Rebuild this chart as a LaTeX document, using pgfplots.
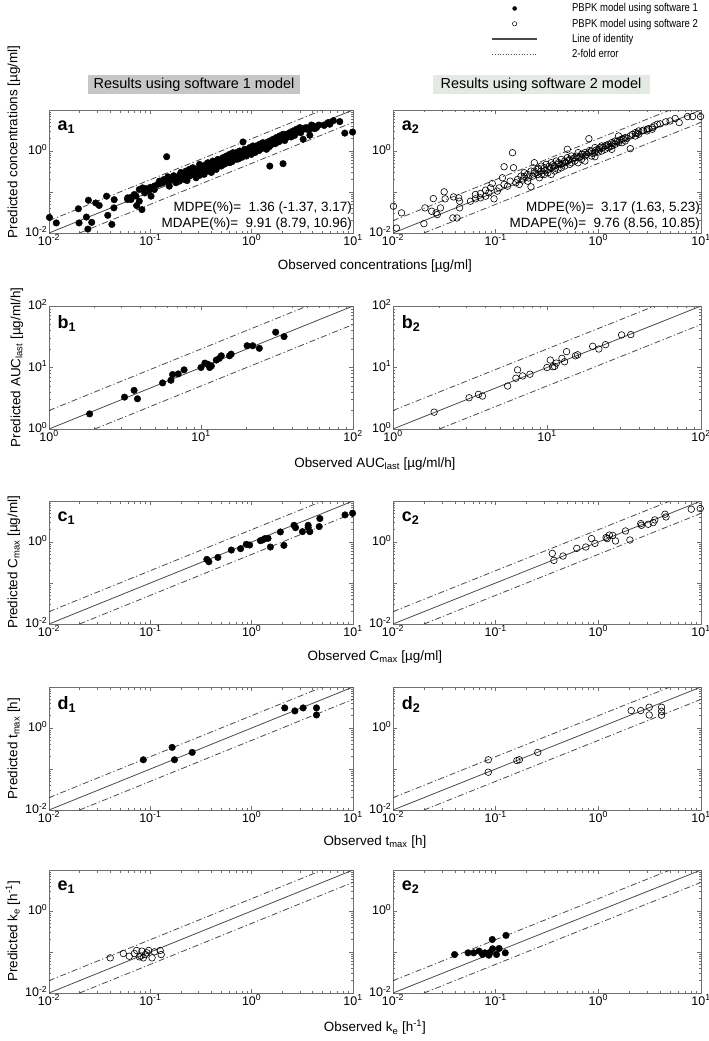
\documentclass[border=0pt]{standalone}
\usepackage{fontspec}
\setmainfont{Liberation Sans}
\usepackage{graphicx}
\usepackage{pgfplots}
\pgfplotsset{compat=1.18}

\definecolor{boxA}{HTML}{C6C6C6}
\definecolor{boxB}{HTML}{E3EAE3}
\definecolor{lnc}{HTML}{4A4A4A}
\definecolor{axc}{HTML}{6E6E6E}

\newcommand{\tp}[1]{10\textsuperscript{#1}}

\pgfplotsset{
  every axis/.append style={
    scale only axis, height=123bp,
    axis line style={axc, line width=0.8bp},
    major tick length=4bp, minor tick length=2.5bp,
    tick align=inside,
    tick style={axc, line width=0.6bp},
    tick label style={font=\fontsize{12.5}{12.5}\selectfont, inner sep=1.5bp},
    yticklabel style={yshift=1.5bp},
    every axis label/.append style={font=\fontsize{13.5}{15}\selectfont},
  },
  fillmk/.style={only marks, mark=*, mark size=3.3bp, black},
  openmk/.style={only marks, mark=o, mark size=3.3bp, black, mark options={line width=0.6bp}},
  idline/.style={lnc, line width=0.8bp, forget plot},
  foldline/.style={lnc, line width=0.8bp, dash pattern=on 6bp off 2.5bp on 1.2bp off 2.5bp, forget plot},
  legimg/.style={legend image code/.code={\draw[mark repeat=2,mark phase=2,##1] plot coordinates {(0bp,0bp) (22.5bp,0bp) (45bp,0bp)};}},
}
\tikzset{
  plabel/.style={anchor=west, font=\bfseries\fontsize{18}{18}\selectfont, inner sep=0pt},
  statnode/.style={anchor=east, font=\fontsize{13.5}{14}\selectfont, inner sep=0pt},
}
\newcommand{\legtxt}[1]{\hspace*{32bp}\scalebox{0.83}[1]{\fontsize{11.5}{12}\selectfont #1}}

\newcommand{\declines}{%
  \addplot[idline] coordinates {(0.01,0.01) (10,10)};
  \addplot[foldline] coordinates {(0.01,0.02) (5,10)};
  \addplot[foldline] coordinates {(0.02,0.01) (10,5)};
}
\newcommand{\auclines}{%
  \addplot[idline] coordinates {(1,1) (100,100)};
  \addplot[foldline] coordinates {(1,2) (50,100)};
  \addplot[foldline] coordinates {(2,1) (100,50)};
}

\begin{document}
\begin{tikzpicture}
\useasboundingbox (0,0) rectangle (709bp,-1041bp);

% titles
\node[fill=boxA, minimum width=212bp, minimum height=19bp, inner sep=0pt, font=\fontsize{14.5}{15}\selectfont] at (194bp,-84.5bp) {Results using software 1 model};
\node[fill=boxB, minimum width=217bp, minimum height=19bp, inner sep=0pt, font=\fontsize{14.5}{15}\selectfont] at (541bp,-84.5bp) {Results using software 2 model};

% ---------------- a1
\begin{loglogaxis}[anchor=south west, at={(49bp,-233bp)}, width=304bp,
  xmin=0.01,xmax=10,ymin=0.01,ymax=10,
  xtick={0.01,0.1,1,10}, xticklabels={\tp{-2},\tp{-1},\tp{0},\tp{1}},
  ytick={0.01,0.1,1,10}, yticklabels={\tp{-2},,\tp{0},},
  minor xtick={0.02,0.03,0.04,0.05,0.06,0.07,0.08,0.09,0.2,0.3,0.4,0.5,0.6,0.7,0.8,0.9,2,3,4,5,6,7,8,9},
  minor ytick={0.02,0.03,0.04,0.05,0.06,0.07,0.08,0.09,0.2,0.3,0.4,0.5,0.6,0.7,0.8,0.9,2,3,4,5,6,7,8,9},
  ylabel={Predicted concentrations [µg/ml]},
  ylabel style={at={(ticklabel cs:0.74)}},
  xlabel={Observed concentrations [µg/ml]},
  xlabel style={at={(ticklabel cs:1.072)}, yshift=-9bp}]
\declines
\addplot[fillmk] coordinates {
(0.0101,0.0240) (0.0118,0.0176) (0.0195,0.0390) (0.0198,0.0176) (0.0234,0.0245)
(0.0245,0.0630) (0.0242,0.0125) (0.0264,0.0182) (0.0289,0.0540) (0.0313,0.0470)
(0.0370,0.0790) (0.0380,0.0270) (0.0417,0.0162) (0.0437,0.0410) (0.0440,0.0650)
(0.0597,0.0720) (0.0597,0.0655) (0.0644,0.0655) (0.0695,0.0868) (0.0733,0.0467)
(0.0778,0.0597) (0.0778,0.1150) (0.0826,0.0372) (0.0840,0.1260) (0.0906,0.1200)
(0.0962,0.1050) (0.1016,0.0791) (0.1096,0.1150) (0.1180,0.1530) (0.1230,0.1840)
(0.1320,0.1680) (0.1430,0.2020) (0.1490,0.2350) (0.1450,0.7260) (0.1540,0.1390)
(0.1660,0.2020)
(0.065,0.075) (0.072,0.080) (0.088,0.095) (0.100,0.130) (0.110,0.140)
(0.125,0.160) (0.135,0.200) (0.150,0.170) (0.160,0.220) (0.170,0.250)
(0.179,0.222) (0.179,0.168) (0.194,0.254) (0.194,0.184) (0.201,0.268)
(0.217,0.268) (0.217,0.202) (0.225,0.324) (0.225,0.244) (0.243,0.356)
(0.243,0.244) (0.253,0.295) (0.263,0.391) (0.263,0.268) (0.283,0.356)
(0.283,0.222) (0.306,0.471) (0.306,0.324) (0.306,0.254) (0.318,0.391)
(0.330,0.429) (0.330,0.295) (0.356,0.471) (0.356,0.391) (0.356,0.324)
(0.370,0.518) (0.370,0.356) (0.384,0.429) (0.384,0.324) (0.414,0.569)
(0.414,0.471) (0.414,0.391) (0.430,0.518) (0.447,0.569) (0.447,0.429)
(0.447,0.356) (0.464,0.625) (0.464,0.471) (0.482,0.569) (0.482,0.518)
(0.520,0.687) (0.520,0.569) (0.520,0.471) (0.561,0.755) (0.561,0.625)
(0.561,0.518) (0.583,0.687) (0.605,0.828) (0.605,0.625) (0.605,0.518)
(0.653,0.910) (0.653,0.755) (0.653,0.625) (0.679,0.687) (0.705,0.910)
(0.705,0.828) (0.705,0.625) (0.733,0.755) (0.761,1.000) (0.761,0.828)
(0.761,0.687) (0.821,1.660) (0.821,0.910) (0.821,0.755) (0.853,1.100)
(0.853,0.828) (0.885,1.000) (0.885,0.755) (0.955,1.210) (0.955,0.910)
(0.993,1.100) (0.993,0.828) (1.03,1.33) (1.03,1.00) (1.11,1.33)
(1.11,1.00) (1.16,1.21) (1.16,1.10) (1.20,1.46) (1.20,1.10)
(1.29,1.60) (1.29,1.21) (1.40,1.60) (1.40,1.33) (1.40,1.10)
(1.45,1.46) (1.51,1.76) (1.51,1.33) (1.51,0.429) (1.63,1.93)
(1.63,1.60) (1.75,2.12) (1.75,1.60) (1.89,2.33) (1.89,1.76)
(2.04,2.56) (2.04,1.93) (2.04,0.490) (2.20,2.56) (2.20,2.12)
(2.38,2.81) (2.38,2.33) (2.56,3.09) (2.56,2.56) (2.77,2.81)
(2.77,3.40) (2.99,3.09) (2.99,3.73) (3.22,1.93) (3.22,3.40)
(3.47,3.73) (3.75,2.42) (3.75,3.40) (4.05,4.09) (4.37,3.73)
(5.70,4.94) (5.90,4.50) (7.40,5.22) (8.30,2.73) (9.90,2.90)
(0.20,0.30) (0.23,0.19) (0.26,0.33) (0.28,0.30) (0.29,0.26) (0.32,0.36)
(0.34,0.27) (0.36,0.43) (0.39,0.36) (0.40,0.30) (0.43,0.40) (0.46,0.55)
(0.50,0.43) (0.50,0.60) (0.54,0.48) (0.57,0.66) (0.59,0.57) (0.62,0.72)
(0.64,0.55) (0.68,0.80) (0.70,0.70) (0.74,0.64) (0.78,0.90) (0.80,0.70)
(0.86,0.95) (0.90,0.85) (0.93,1.05) (0.97,0.95) (1.05,1.18) (1.08,0.92)
(1.13,1.25) (1.18,1.02) (1.24,1.38) (1.26,1.15) (1.33,1.42) (1.36,1.22)
(1.43,1.55) (1.48,1.25) (1.55,1.62) (1.58,1.45) (1.68,1.82) (1.70,1.50)
(1.80,1.95) (1.85,1.68) (1.95,2.15) (2.10,2.30) (2.12,1.80) (2.30,2.45)
(2.45,2.20) (2.50,2.75) (2.65,2.40) (2.85,3.10) (3.05,2.80) (3.30,3.60)
(3.60,3.30) (3.90,4.30) (4.20,3.50) (4.60,4.30) (5.20,4.20) (6.40,5.50)
};
\node[plabel] at (rel axis cs:0.028,0.86) {a\textsubscript{1}};
\node[statnode] at (rel axis cs:0.997,0.20) {MDPE(\%)=\ \ 1.36 (-1.37, 3.17)};
\node[statnode] at (rel axis cs:0.997,0.07) {MDAPE(\%)=\ \ 9.91 (8.79, 10.96)};
\end{loglogaxis}

% ---------------- a2
\begin{loglogaxis}[anchor=south west, at={(393bp,-233bp)}, width=308bp,
  xmin=0.01,xmax=10,ymin=0.01,ymax=10,
  xtick={0.01,0.1,1,10}, xticklabels={\tp{-2},\tp{-1},\tp{0},\tp{1}},
  ytick={0.01,0.1,1,10}, yticklabels={\tp{-2},,\tp{0},},
  minor xtick={0.02,0.03,0.04,0.05,0.06,0.07,0.08,0.09,0.2,0.3,0.4,0.5,0.6,0.7,0.8,0.9,2,3,4,5,6,7,8,9},
  minor ytick={0.02,0.03,0.04,0.05,0.06,0.07,0.08,0.09,0.2,0.3,0.4,0.5,0.6,0.7,0.8,0.9,2,3,4,5,6,7,8,9},
  legimg,
  legend style={at={(0.318,1.883)}, anchor=north west, draw=none, fill=none,
    inner sep=0pt, row sep=1.5bp, cells={anchor=west}}]
\addlegendimage{only marks, mark=*, mark size=2bp, black}
\addlegendentry{\legtxt{PBPK model using software 1}}
\addlegendimage{only marks, mark=o, mark size=2.2bp, black, mark options={line width=0.5bp}}
\addlegendentry{\legtxt{PBPK model using software 2}}
\addlegendimage{lnc, line width=2bp}
\addlegendentry{\legtxt{Line of identity}}
\addlegendimage{lnc, line width=0.7bp, dotted}
\addlegendentry{\legtxt{2-fold error}}
\declines
\addplot[openmk, forget plot] coordinates {
(0.0101,0.0450) (0.0108,0.0132) (0.0121,0.0310) (0.0200,0.0169) (0.0205,0.0410)
(0.0238,0.0340) (0.0247,0.0690) (0.0263,0.0310) (0.0270,0.0281) (0.0290,0.0410)
(0.0315,0.1010) (0.0322,0.0680) (0.0389,0.0760) (0.0383,0.0233) (0.0420,0.0233)
(0.0436,0.0720) (0.0445,0.0597) (0.0445,0.0410)
(0.0568,0.0597) (0.0635,0.0868) (0.0635,0.0681) (0.0711,0.0918) (0.0711,0.0720)
(0.0798,0.111) (0.0798,0.0791) (0.0859,0.0955) (0.0893,0.126) (0.0927,0.161)
(0.0964,0.0681) (0.1038,0.105) (0.1079,0.126) (0.1164,0.222) (0.1208,0.413)
(0.1208,0.153) (0.1303,0.139) (0.1383,0.184) (0.1459,0.910) (0.1493,0.391)
(0.1574,0.168) (0.1633,0.202) (0.1698,0.153) (0.1762,0.244) (0.1828,0.195)
(0.1901,0.295) (0.2047,0.268) (0.2047,0.184) (0.2208,0.134) (0.2208,0.324)
(0.2296,0.244) (0.2382,0.518) (0.2382,0.324) (0.2570,0.356) (0.2570,0.268)
(0.2667,0.222) (0.2773,0.429) (0.2773,0.324) (0.2985,0.391) (0.2985,0.268)
(0.3105,0.471) (0.3221,0.356) (0.3221,0.295) (0.3475,0.518) (0.3475,0.391)
(0.3475,0.268) (0.3750,0.429) (0.3750,0.324) (0.3890,0.569) (0.4046,0.471)
(0.4046,0.356) (0.4355,0.625) (0.4355,0.471) (0.4355,0.391) (0.4699,0.569)
(0.4699,0.429) (0.4989,1.10) (0.4989,0.687) (0.5260,0.625) (0.5260,0.471)
(0.5470,0.755) (0.5470,0.518) (0.5888,0.687) (0.5888,0.569) (0.6353,0.910)
(0.6353,0.687) (0.6353,0.518) (0.6855,0.828) (0.6855,0.625) (0.7396,0.910)
(0.7396,0.755) (0.7396,0.569) (0.8091,2.00) (0.8091,0.910) (0.8590,1.00)
(0.8590,0.755) (0.9268,1.21) (0.9268,0.910) (0.9268,0.726) (1.000,1.10)
(1.000,0.946) (1.079,1.33) (1.079,1.00) (1.163,1.33) (1.163,1.10)
(1.254,1.46) (1.254,1.21) (1.352,1.60) (1.352,1.33) (1.352,1.10)
(1.459,1.76) (1.459,1.46) (1.574,2.33) (1.574,1.60) (1.698,1.93)
(1.698,1.60) (1.829,2.12) (1.829,1.76) (2.049,1.14) (2.049,2.33)
(2.296,2.81) (2.296,2.33) (2.473,2.56) (2.473,3.09) (2.668,3.09)
(2.985,3.40) (2.985,3.09) (3.350,3.73) (3.350,3.40) (3.750,4.50)
(4.529,5.13) (6.124,4.94) (7.396,6.93) (8.279,6.93) (9.900,6.93)
(0.19,0.24) (0.21,0.22) (0.24,0.29) (0.26,0.38) (0.28,0.27) (0.30,0.33)
(0.33,0.42) (0.36,0.46) (0.38,0.38) (0.41,0.52) (0.45,0.50) (0.48,0.52)
(0.51,0.58) (0.56,0.64) (0.61,0.75) (0.66,0.72) (0.70,0.84) (0.77,0.82)
(0.82,1.02) (0.88,0.88) (0.95,1.05) (1.03,1.20) (1.10,1.22) (1.20,1.38)
(1.30,1.28) (1.40,1.52) (1.52,1.72) (1.62,1.85) (1.75,2.00) (1.90,2.05)
(2.15,2.55) (2.40,2.70) (2.75,3.20) (3.10,3.50) (3.50,4.10) (4.00,4.60)
(5.00,5.40) (5.60,6.20)
};
\node[plabel] at (rel axis cs:0.028,0.86) {a\textsubscript{2}};
\node[statnode] at (rel axis cs:0.997,0.20) {MDPE(\%)=\ \ 3.17 (1.63, 5.23)};
\node[statnode] at (rel axis cs:0.997,0.07) {MDAPE(\%)=\ \ 9.76 (8.56, 10.85)};
\end{loglogaxis}

% ---------------- b1
\begin{loglogaxis}[anchor=south west, at={(49bp,-429bp)}, width=304bp,
  xmin=1,xmax=100,ymin=1,ymax=100,
  xtick={1,10,100}, xticklabels={\tp{0},\tp{1},\tp{2}},
  ytick={1,10,100}, yticklabels={\tp{0},\tp{1},\tp{2}},
  minor xtick={2,3,4,5,6,7,8,9,20,30,40,50,60,70,80,90},
  minor ytick={2,3,4,5,6,7,8,9,20,30,40,50,60,70,80,90},
  ylabel={Predicted AUC\textsubscript{last} [µg/ml/h]},
  xlabel={Observed AUC\textsubscript{last} [µg/ml/h]},
  xlabel style={at={(ticklabel cs:1.072)}, yshift=-11bp}]
\auclines
\addplot[fillmk] coordinates {
(1.85,1.76) (3.14,3.30) (3.63,4.25) (3.82,3.10) (5.59,5.61) (6.34,6.20)
(6.50,7.68) (7.08,7.87) (7.74,9.16) (10.0,10.0) (10.6,11.8) (11.1,11.3)
(11.4,10.0) (11.7,10.6) (12.6,13.2) (13.2,14.1) (13.6,15.5) (15.4,15.5)
(15.8,16.5) (20.1,22.6) (21.9,22.6) (24.2,20.5) (31.0,37.5) (35.2,31.8)
};
\node[plabel] at (rel axis cs:0.028,0.86) {b\textsubscript{1}};
\end{loglogaxis}

% ---------------- b2
\begin{loglogaxis}[anchor=south west, at={(393bp,-429bp)}, width=308bp,
  xmin=1,xmax=100,ymin=1,ymax=100,
  xtick={1,10,100}, xticklabels={\tp{0},\tp{1},\tp{2}},
  ytick={1,10,100}, yticklabels={\tp{0},\tp{1},\tp{2}},
  minor xtick={2,3,4,5,6,7,8,9,20,30,40,50,60,70,80,90},
  minor ytick={2,3,4,5,6,7,8,9,20,30,40,50,60,70,80,90}]
\auclines
\addplot[openmk] coordinates {
(1.85,1.88) (3.12,3.22) (3.59,3.66) (3.81,3.43) (5.55,5.00) (6.28,6.69)
(6.44,9.16) (6.95,7.30) (7.75,7.78) (10.0,10.0) (10.5,13.2) (10.9,10.3)
(11.2,10.4) (11.5,11.8) (12.5,14.1) (13.0,12.4) (13.4,18.1) (15.3,15.5)
(15.8,16.1) (19.8,22.1) (21.7,20.0) (24.0,23.5) (30.5,33.9) (35.0,34.3)
};
\node[plabel] at (rel axis cs:0.028,0.86) {b\textsubscript{2}};
\end{loglogaxis}

% ---------------- c1
\begin{loglogaxis}[anchor=south west, at={(49bp,-624bp)}, width=304bp,
  xmin=0.01,xmax=10,ymin=0.01,ymax=10,
  xtick={0.01,0.1,1,10}, xticklabels={\tp{-2},\tp{-1},\tp{0},\tp{1}},
  ytick={0.01,0.1,1,10}, yticklabels={\tp{-2},,\tp{0},},
  minor xtick={0.02,0.03,0.04,0.05,0.06,0.07,0.08,0.09,0.2,0.3,0.4,0.5,0.6,0.7,0.8,0.9,2,3,4,5,6,7,8,9},
  minor ytick={0.02,0.03,0.04,0.05,0.06,0.07,0.08,0.09,0.2,0.3,0.4,0.5,0.6,0.7,0.8,0.9,2,3,4,5,6,7,8,9},
  ylabel={Predicted C\textsubscript{max} [µg/ml]},
  xlabel={Observed C\textsubscript{max} [µg/ml]},
  xlabel style={at={(ticklabel cs:1.072)}, yshift=-9bp}]
\declines
\addplot[fillmk] coordinates {
(0.361,0.377) (0.378,0.330) (0.464,0.421) (0.630,0.637) (0.778,0.687) (0.885,0.877)
(0.955,0.845) (1.22,1.08) (1.28,1.12) (1.35,1.21) (1.45,1.23) (1.53,0.755)
(1.92,1.76) (2.08,0.828) (2.62,2.56) (2.71,2.24) (3.17,1.79) (3.61,2.56)
(3.61,2.24) (3.75,1.79) (4.71,3.73) (4.64,2.38) (8.34,4.58) (9.90,5.03)
};
\node[plabel] at (rel axis cs:0.028,0.86) {c\textsubscript{1}};
\end{loglogaxis}

% ---------------- c2
\begin{loglogaxis}[anchor=south west, at={(393bp,-624bp)}, width=308bp,
  xmin=0.01,xmax=10,ymin=0.01,ymax=10,
  xtick={0.01,0.1,1,10}, xticklabels={\tp{-2},\tp{-1},\tp{0},\tp{1}},
  ytick={0.01,0.1,1,10}, yticklabels={\tp{-2},,\tp{0},},
  minor xtick={0.02,0.03,0.04,0.05,0.06,0.07,0.08,0.09,0.2,0.3,0.4,0.5,0.6,0.7,0.8,0.9,2,3,4,5,6,7,8,9},
  minor ytick={0.02,0.03,0.04,0.05,0.06,0.07,0.08,0.09,0.2,0.3,0.4,0.5,0.6,0.7,0.8,0.9,2,3,4,5,6,7,8,9}]
\declines
\addplot[openmk] coordinates {
(0.356,0.527) (0.369,0.356) (0.453,0.454) (0.617,0.700) (0.756,0.755) (0.859,1.21)
(0.927,0.927) (1.19,1.28) (1.22,1.21) (1.28,1.48) (1.38,1.45) (1.47,1.06)
(1.84,1.86) (2.03,1.12) (2.59,2.81) (2.63,2.56) (3.06,2.71) (3.42,2.97)
(3.55,3.46) (4.46,4.76) (4.56,4.09) (8.04,6.31) (9.84,6.55)
};
\node[plabel] at (rel axis cs:0.028,0.86) {c\textsubscript{2}};
\end{loglogaxis}

% ---------------- d1
\begin{loglogaxis}[anchor=south west, at={(49bp,-810bp)}, width=304bp,
  xmin=0.01,xmax=10,ymin=0.01,ymax=10,
  xtick={0.01,0.1,1,10}, xticklabels={\tp{-2},\tp{-1},\tp{0},\tp{1}},
  ytick={0.01,0.1,1,10}, yticklabels={\tp{-2},,\tp{0},},
  minor xtick={0.02,0.03,0.04,0.05,0.06,0.07,0.08,0.09,0.2,0.3,0.4,0.5,0.6,0.7,0.8,0.9,2,3,4,5,6,7,8,9},
  minor ytick={0.02,0.03,0.04,0.05,0.06,0.07,0.08,0.09,0.2,0.3,0.4,0.5,0.6,0.7,0.8,0.9,2,3,4,5,6,7,8,9},
  ylabel={Predicted t\textsubscript{max} [h]},
  xlabel={Observed t\textsubscript{max} [h]},
  xlabel style={at={(ticklabel cs:1.072)}, yshift=-8bp}]
\declines
\addplot[fillmk] coordinates {
(0.0853,0.168) (0.164,0.337) (0.173,0.168) (0.259,0.254) (2.12,3.09)
(2.67,2.61) (3.22,3.09) (4.36,3.09) (4.36,2.08)
};
\node[plabel] at (rel axis cs:0.028,0.86) {d\textsubscript{1}};
\end{loglogaxis}

% ---------------- d2
\begin{loglogaxis}[anchor=south west, at={(393bp,-810bp)}, width=308bp,
  xmin=0.01,xmax=10,ymin=0.01,ymax=10,
  xtick={0.01,0.1,1,10}, xticklabels={\tp{-2},\tp{-1},\tp{0},\tp{1}},
  ytick={0.01,0.1,1,10}, yticklabels={\tp{-2},,\tp{0},},
  minor xtick={0.02,0.03,0.04,0.05,0.06,0.07,0.08,0.09,0.2,0.3,0.4,0.5,0.6,0.7,0.8,0.9,2,3,4,5,6,7,8,9},
  minor ytick={0.02,0.03,0.04,0.05,0.06,0.07,0.08,0.09,0.2,0.3,0.4,0.5,0.6,0.7,0.8,0.9,2,3,4,5,6,7,8,9}]
\declines
\addplot[openmk] coordinates {
(0.0847,0.168) (0.0847,0.0836) (0.161,0.161) (0.170,0.168) (0.257,0.254)
(2.09,2.66) (2.59,2.66) (3.13,3.21) (3.13,2.08) (4.13,3.21) (4.13,2.56) (4.13,2.05)
};
\node[plabel] at (rel axis cs:0.028,0.86) {d\textsubscript{2}};
\end{loglogaxis}

% ---------------- e1
\begin{loglogaxis}[anchor=south west, at={(49bp,-993bp)}, width=304bp,
  xmin=0.01,xmax=10,ymin=0.01,ymax=10,
  xtick={0.01,0.1,1,10}, xticklabels={\tp{-2},\tp{-1},\tp{0},\tp{1}},
  ytick={0.01,0.1,1,10}, yticklabels={\tp{-2},,\tp{0},},
  minor xtick={0.02,0.03,0.04,0.05,0.06,0.07,0.08,0.09,0.2,0.3,0.4,0.5,0.6,0.7,0.8,0.9,2,3,4,5,6,7,8,9},
  minor ytick={0.02,0.03,0.04,0.05,0.06,0.07,0.08,0.09,0.2,0.3,0.4,0.5,0.6,0.7,0.8,0.9,2,3,4,5,6,7,8,9},
  ylabel={Predicted k\textsubscript{e} [h\textsuperscript{-1}]},
  xlabel={Observed k\textsubscript{e} [h\textsuperscript{-1}]},
  xlabel style={at={(ticklabel cs:1.072)}, yshift=-10bp}]
\declines
\addplot[openmk] coordinates {
(0.0402,0.0720) (0.0541,0.0918) (0.0620,0.0790) (0.0695,0.0918) (0.0733,0.109)
(0.0780,0.0763) (0.0807,0.0800) (0.0826,0.105) (0.0853,0.0720) (0.0890,0.0868)
(0.0927,0.0955) (0.0962,0.109) (0.104,0.0720) (0.110,0.101) (0.125,0.109) (0.128,0.0868)
};
\node[plabel] at (rel axis cs:0.028,0.86) {e\textsubscript{1}};
\end{loglogaxis}

% ---------------- e2
\begin{loglogaxis}[anchor=south west, at={(393bp,-993bp)}, width=308bp,
  xmin=0.01,xmax=10,ymin=0.01,ymax=10,
  xtick={0.01,0.1,1,10}, xticklabels={\tp{-2},\tp{-1},\tp{0},\tp{1}},
  ytick={0.01,0.1,1,10}, yticklabels={\tp{-2},,\tp{0},},
  minor xtick={0.02,0.03,0.04,0.05,0.06,0.07,0.08,0.09,0.2,0.3,0.4,0.5,0.6,0.7,0.8,0.9,2,3,4,5,6,7,8,9},
  minor ytick={0.02,0.03,0.04,0.05,0.06,0.07,0.08,0.09,0.2,0.3,0.4,0.5,0.6,0.7,0.8,0.9,2,3,4,5,6,7,8,9}]
\declines
\addplot[fillmk] coordinates {
(0.0398,0.0868) (0.0538,0.0955) (0.0612,0.0955) (0.0690,0.105) (0.0745,0.0868)
(0.0785,0.0955) (0.0859,0.0836) (0.0880,0.0980) (0.0927,0.202) (0.0934,0.120)
(0.102,0.0868) (0.108,0.122) (0.124,0.0955) (0.126,0.254)
};
\node[plabel] at (rel axis cs:0.028,0.86) {e\textsubscript{2}};
\end{loglogaxis}
\end{tikzpicture}
\end{document}
